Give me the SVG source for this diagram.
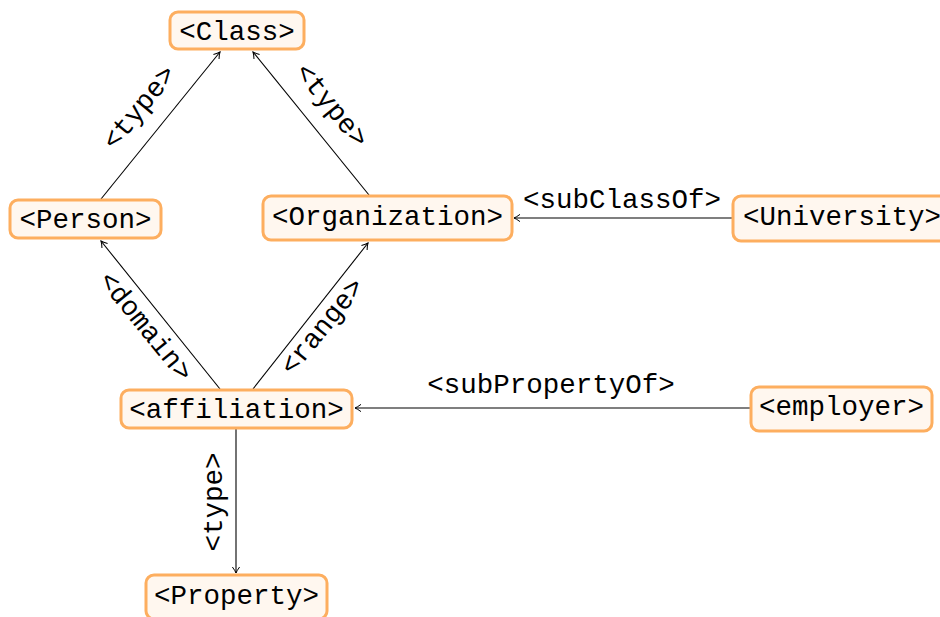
<svg xmlns="http://www.w3.org/2000/svg" width="940" height="617" viewBox="0 0 940 617">
<defs>
<marker id="arr" viewBox="-8 -5 10 10" refX="0" refY="0" markerWidth="10" markerHeight="10" markerUnits="userSpaceOnUse" orient="auto">
<path d="M-6,-3.6 Q-2.4,-0.9 0,0 Q-2.4,0.9 -6,3.6" fill="none" stroke="#000" stroke-width="1"/>
</marker>
</defs>
<style>
.box{fill:#FFF7EF;stroke:#FDAE5F;stroke-width:3}
.t{font-family:"Liberation Mono","DejaVu Sans Mono",monospace;font-size:27.5px;fill:#000;text-anchor:middle}
.c{dominant-baseline:central}
.e{stroke:#000;stroke-width:1.1;fill:none;marker-end:url(#arr)}
</style>
<rect width="940" height="617" fill="#fff"/>
<g id="edges">
<line class="e" x1="101" y1="199" x2="220" y2="52"/>
<line class="e" x1="369" y1="195" x2="253" y2="52"/>
<line class="e" x1="220" y1="389" x2="101" y2="241"/>
<line class="e" x1="253" y1="389" x2="368" y2="243"/>
<line class="e" x1="732" y1="218" x2="514" y2="218"/>
<line class="e" x1="750" y1="408" x2="355" y2="408"/>
<line class="e" x1="236" y1="429" x2="236" y2="573"/>
<text class="t c" transform="translate(140,108) rotate(-51)">&lt;type&gt;</text>
<text class="t c" transform="translate(331,106) rotate(51)">&lt;type&gt;</text>
<text class="t c" transform="translate(145,327) rotate(51)">&lt;domain&gt;</text>
<text class="t c" transform="translate(323,327) rotate(-51)">&lt;range&gt;</text>
<text class="t" x="622" y="208">&lt;subClassOf&gt;</text>
<text class="t" x="551" y="393">&lt;subPropertyOf&gt;</text>
<text class="t c" transform="translate(214,502) rotate(-90)">&lt;type&gt;</text>
</g>
<g id="Class"><rect class="box" x="170" y="12" width="134" height="37" rx="8"/><text class="t" x="237" y="40">&lt;Class&gt;</text></g>
<g id="Person"><rect class="box" x="10" y="200" width="151" height="38" rx="8"/><text class="t" x="85.5" y="228">&lt;Person&gt;</text></g>
<g id="Organization"><rect class="box" x="263" y="196" width="249" height="44" rx="8"/><text class="t" x="387.5" y="225">&lt;Organization&gt;</text></g>
<g id="University"><rect class="box" x="733" y="196" width="218" height="45" rx="8"/><text class="t" x="842" y="225">&lt;University&gt;</text></g>
<g id="affiliation"><rect class="box" x="121" y="390" width="231" height="38" rx="8"/><text class="t" x="236.5" y="418">&lt;affiliation&gt;</text></g>
<g id="employer"><rect class="box" x="751" y="387" width="181" height="44" rx="8"/><text class="t" x="841.5" y="415">&lt;employer&gt;</text></g>
<g id="Property"><rect class="box" x="146" y="575" width="181" height="44" rx="8"/><text class="t" x="236.5" y="604">&lt;Property&gt;</text></g>
</svg>
